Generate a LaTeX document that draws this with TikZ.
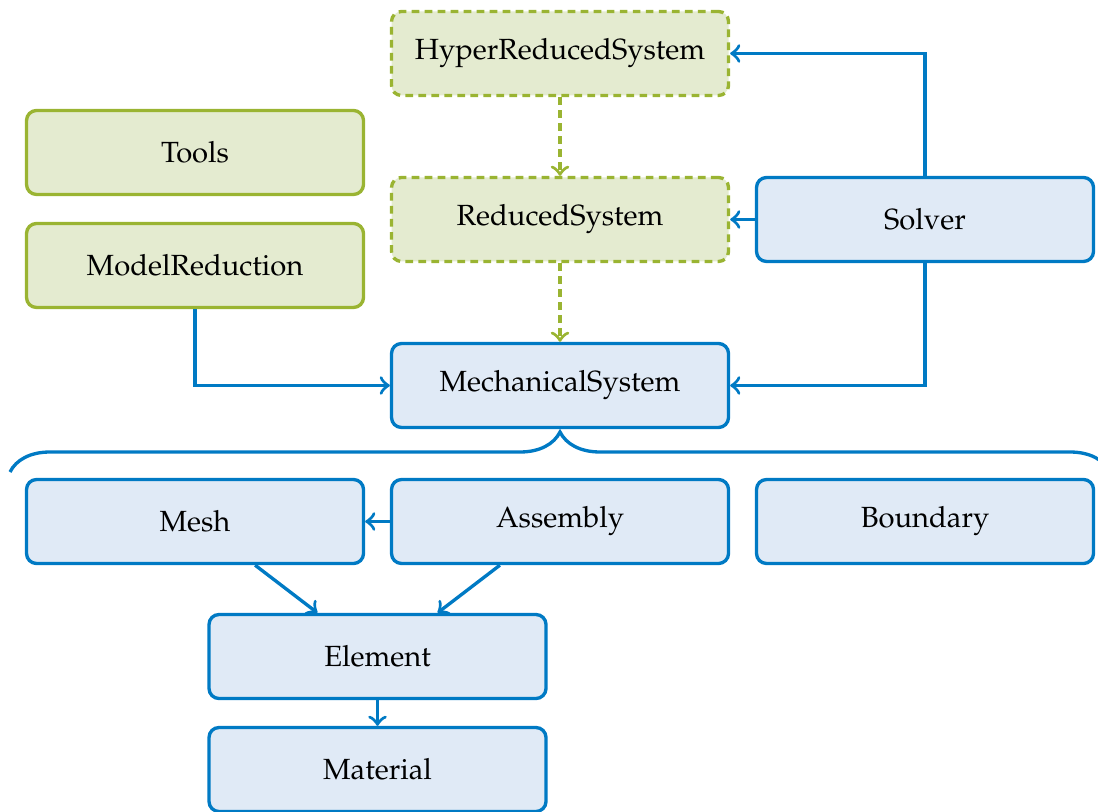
\documentclass[tikz,border=0pt]{standalone}
\usepackage[T1]{fontenc}
\usepackage{mathpazo}
\usepackage{tikz}
\usetikzlibrary{positioning}
\usetikzlibrary{arrows}
\usetikzlibrary{decorations.pathreplacing}

\definecolor{modblue}{RGB}{0,122,196}
\definecolor{modbluefill}{RGB}{224,234,246}
\definecolor{modgreen}{RGB}{154,180,50}
\definecolor{modgreenfill}{RGB}{228,235,208}

\begin{document}
\begin{tikzpicture}[
            > = to, % arrow head style
            node distance = 3.65cm, % distance between module centres
            line width = 0.95pt
        ]

        \tikzstyle{module}=[
            draw = modblue,
            fill = modbluefill,
            rounded corners = 0.1cm,
            minimum width = 3.37cm,
            minimum height = 0.84cm,
            font = \fontsize{8.3}{10}\selectfont
        ]
        \tikzstyle{redmodule}=[module, draw = modgreen, fill = modgreenfill]
        \tikzstyle{optmodule}=[redmodule, dash pattern = on 2.2pt off 1.5pt]
        \tikzstyle{dep}=[->, draw = modblue]
        \tikzstyle{optdep}=[->, draw = modgreen, dash pattern = on 2.2pt off 1.5pt]

        \useasboundingbox (0,0) rectangle (10.98,-8.12);

        \node[module] (Mech) at (5.6,-3.855) {MechanicalSystem};
        \node[optmodule] (Red) [above of=Mech, node distance=1.66cm] {ReducedSystem};
        \node[optmodule] (Hyper) [above of=Red, node distance=1.66cm] {HyperReducedSystem};
        \node[module] (Solver) [right of=Red] {Solver};

        \node[redmodule] (MR) at (1.95,-2.655) {ModelReduction};
        \node[redmodule] (Tools) [above of=MR, node distance=1.13cm] {Tools};

        \node[module] (Asm) [below of=Mech, node distance=1.36cm] {Assembly};
        \node[module] (Mesh) [left of=Asm] {Mesh};
        \node[module] (Bnd) [right of=Asm] {Boundary};
        \node[module] (Elem) at (3.775,-6.565) {Element};
        \node[module] (Mat) [below of=Elem, node distance=1.13cm] {Material};

        \path[optdep] (Hyper) edge (Red);
        \path[optdep] (Red) edge (Mech);
        \path[dep] (Solver) edge (Red);
        \draw[dep] (Solver) |- (Hyper);
        \draw[dep] (Solver) |- (Mech);
        \draw[dep] (MR) |- (Mech);

        % everything below belongs to the mechanical system
        \draw[modblue, decorate, decoration={brace, amplitude=0.4cm}]
            (0.1,-4.72) -- (11.1,-4.72);

        \path[dep] (Asm) edge (Mesh);
        \draw[dep] (Mesh.-36) -- (Elem.144);
        \draw[dep] (Asm.-144) -- (Elem.36);
        \path[dep] (Elem) edge (Mat);

  \end{tikzpicture}
\end{document}
